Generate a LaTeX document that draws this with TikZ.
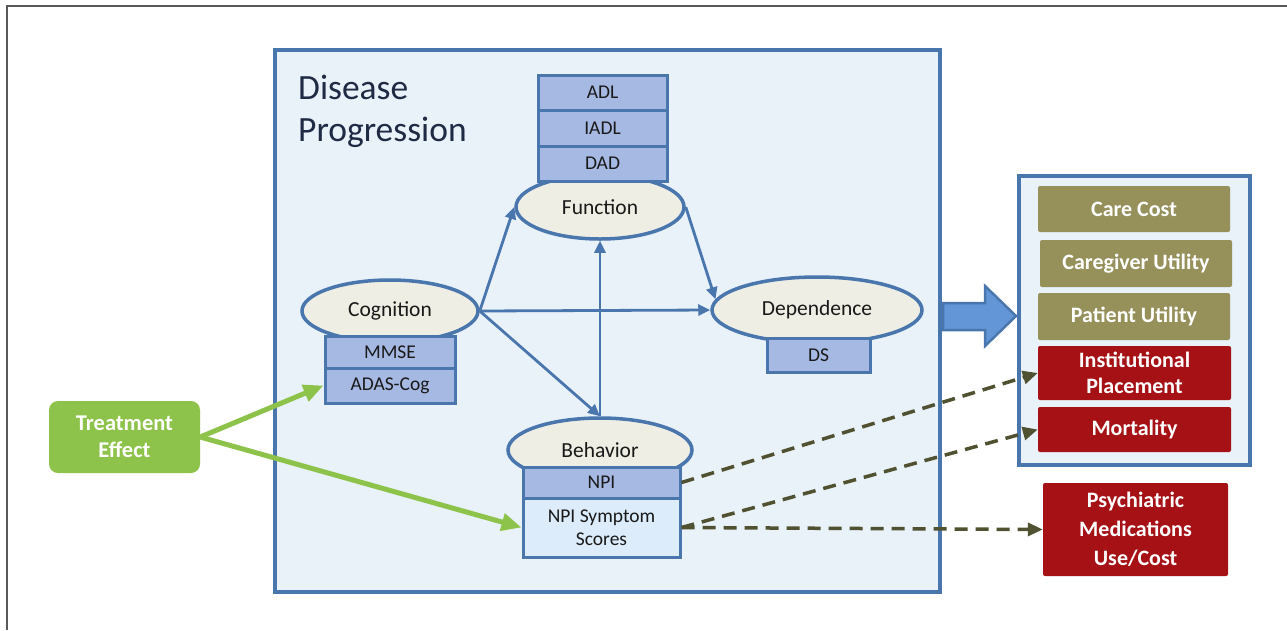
\documentclass[tikz,border=0pt]{standalone}
\usepackage{fontspec}
\setmainfont{Carlito}
\usetikzlibrary{shapes.geometric,arrows.meta}
\definecolor{boxblue}{RGB}{74,118,174}
\definecolor{bgblue}{RGB}{233,241,249}
\definecolor{measurefill}{RGB}{166,185,227}
\definecolor{lightmeasure}{RGB}{220,236,251}
\definecolor{ellfill}{RGB}{238,238,228}
\definecolor{olivebox}{RGB}{150,145,91}
\definecolor{redbox}{RGB}{166,17,21}
\definecolor{treatgreen}{RGB}{141,195,74}
\definecolor{dashcol}{RGB}{79,81,48}
\definecolor{bigarrow}{RGB}{98,150,215}
\definecolor{navytext}{RGB}{31,42,68}
\tikzset{
  measure/.style={draw=boxblue, line width=3pt, fill=measurefill, inner sep=0pt,
    font=\fontsize{19.5}{23}\selectfont, text=black!90},
  ell/.style={ellipse, draw=boxblue, line width=3.5pt, fill=ellfill, inner sep=0pt,
    font=\fontsize{21.5}{25}\selectfont, text=black!90},
  outcome/.style={rounded corners=2pt, inner sep=0pt, text=white, align=center,
    font=\fontsize{22}{26}\selectfont\bfseries},
  link/.style={draw=boxblue, line width=2.8pt, -{Triangle[length=12pt,width=11pt]}},
  treatlink/.style={draw=treatgreen, line width=5pt, -{Triangle[length=20pt,width=17pt]}},
  dashlink/.style={draw=dashcol, line width=3.5pt, dash pattern=on 13pt off 8pt,
    -{Triangle[length=15pt,width=13pt]}},
}
\begin{document}
\begin{tikzpicture}[x=1pt,y=-1pt]
\useasboundingbox (0,0) rectangle (1287,630);
% outer frame
\draw[draw=black!65, line width=1.3pt] (7,630) -- (7,6) -- (1287,6);

% main box
\node[draw=boxblue, line width=4pt, fill=bgblue, minimum width=665pt, minimum height=542pt, inner sep=0pt] (main) at (607.5,321) {};
\node[anchor=north west, align=left, text=navytext, font=\fontsize{35.5}{42}\selectfont, inner sep=0pt] (title) at (298,75) {Disease\\Progression};

% ellipses
\node[ell, minimum width=168pt, minimum height=64pt] (func) at (600,207) {Function};
\node[ell, minimum width=176pt, minimum height=62pt] (cog) at (390,311) {Cognition};
\node[ell, minimum width=210pt, minimum height=66pt] (dep) at (817,310) {Dependence};
\node[ell, minimum width=184pt, minimum height=64pt] (beh) at (600,450) {Behavior};

% measure boxes
\node[measure, minimum width=129pt, minimum height=35pt] (adl) at (602.5,92.5) {ADL};
\node[measure, minimum width=129pt, minimum height=36pt] (iadl) at (602.5,128) {IADL};
\node[measure, minimum width=129pt, minimum height=35pt] (dad) at (602.5,163.5) {DAD};
\node[measure, minimum width=130pt, minimum height=32pt] (mmse) at (390,352) {MMSE};
\node[measure, minimum width=130pt, minimum height=35pt] (adas) at (390,385.5) {ADAS-Cog};
\node[measure, minimum width=103pt, minimum height=34pt] (ds) at (818.5,355) {DS};
\node[measure, minimum width=157pt, minimum height=31pt] (npi) at (601.5,482.5) {NPI};
\node[measure, fill=lightmeasure, minimum width=157pt, minimum height=59pt, align=center] (npis) at (601.5,527.5) {NPI Symptom\\Scores};

% treatment
\node[outcome, fill=treatgreen, rounded corners=9pt, minimum width=151pt, minimum height=72pt, font=\fontsize{22.5}{27}\selectfont\bfseries] (treat) at (124.5,437) {Treatment\\Effect};

% outcomes box
\node[draw=boxblue, line width=4pt, fill=bgblue, minimum width=231pt, minimum height=289pt, inner sep=0pt] (outbox) at (1134.5,320.5) {};
\node[outcome, fill=olivebox, minimum width=192pt, minimum height=46pt] (care) at (1134,209) {Care Cost};
\node[outcome, fill=olivebox, minimum width=192pt, minimum height=47pt] (cgu) at (1136,263.5) {Caregiver Utility};
\node[outcome, fill=olivebox, minimum width=192pt, minimum height=47pt] (pu) at (1134,316.5) {Patient Utility};
\node[outcome, fill=redbox, minimum width=193pt, minimum height=54pt, font=\fontsize{22}{26}\selectfont\bfseries] (inst) at (1134.5,373) {Institutional\\Placement};
\node[outcome, fill=redbox, minimum width=193pt, minimum height=45pt] (mort) at (1134.5,429.5) {Mortality};
\node[outcome, fill=redbox, minimum width=185pt, minimum height=93pt, font=\fontsize{22}{29}\selectfont\bfseries] (psy) at (1135.5,529.5) {Psychiatric\\Medications\\Use/Cost};

% big block arrow
\draw[draw=boxblue, line width=2.5pt, fill=bigarrow, line join=miter]
  (943,303) -- (985,303) -- (985,286) -- (1016,316) -- (985,346) -- (985,330) -- (943,330) -- cycle;

% blue links
\draw[link] (cog.east) -- (func.west);
\draw[link] (cog.east) -- (dep.west);
\draw[link] (cog.east) -- (beh.north);
\draw[link] (beh.north) -- (func.south);
\draw[link] (func.east) -- (dep.174);

% treatment links
\draw[treatlink] (treat.east) -- (adas.west);
\draw[treatlink] (treat.east) -- (npis.west);

% dashed links
\draw[dashlink] (npi.east) -- (inst.west);
\draw[dashlink] (npis.east) -- (mort.west);
\draw[dashlink] (npis.east) -- (psy.west);
\end{tikzpicture}
\end{document}
